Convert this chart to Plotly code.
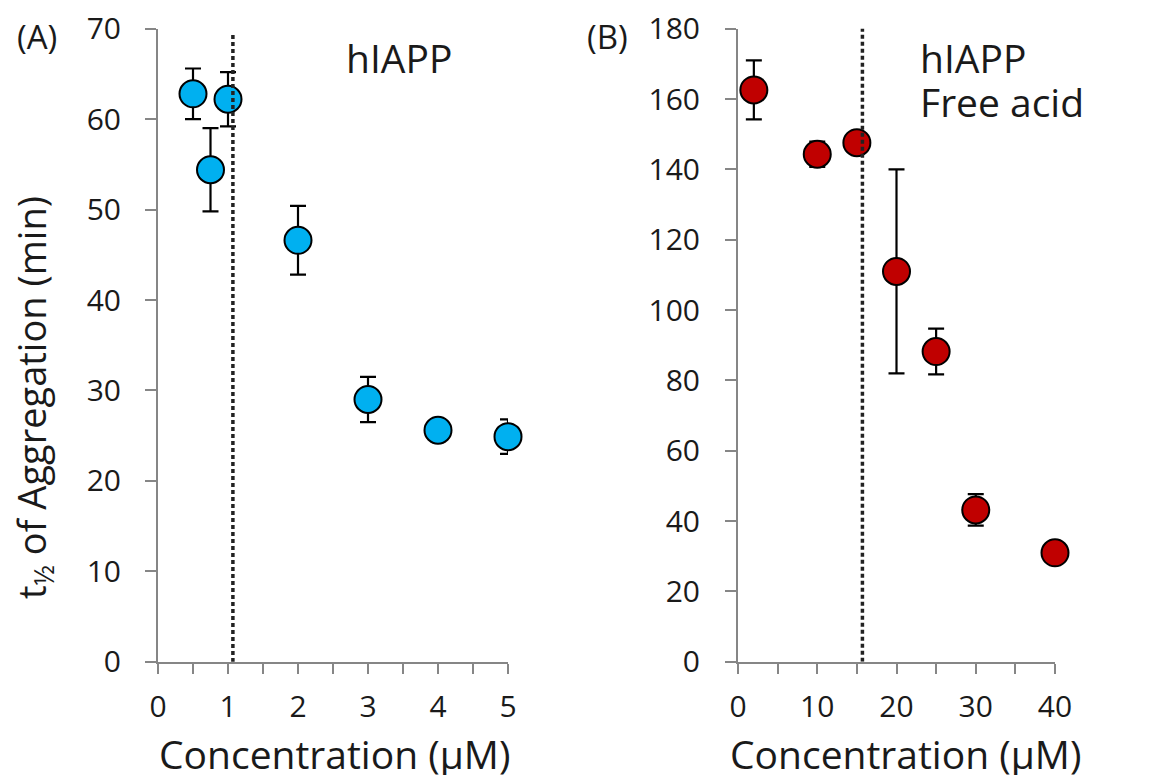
import plotly.graph_objects as go

# Panel A: hIAPP
conc_a = [0.5, 0.75, 1.0, 2, 3, 4, 5]
t_half_a = [62.8, 54.4, 62.2, 46.6, 29.0, 25.6, 24.9]
err_a = [2.8, 4.6, 3.0, 3.8, 2.5, 1.2, 1.9]
cac_a = 1.07

# Panel B: hIAPP free acid
conc_b = [2, 10, 15, 20, 25, 30, 40]
t_half_b = [162.6, 144.3, 147.6, 111.0, 88.2, 43.2, 31.0]
err_b = [8.4, 3.6, 2.0, 29.0, 6.5, 4.5, 1.0]
cac_b = 15.7

FONT = "Open Sans"
TXT = "#1a1a1a"
GREY = "#868686"

fig = go.Figure()

fig.add_trace(go.Scatter(
    x=conc_a, y=t_half_a, mode="markers", xaxis="x", yaxis="y",
    marker=dict(size=27, color="#00B0F0", line=dict(color="black", width=2)),
    error_y=dict(type="data", array=err_a, color="black", thickness=2.2, width=8),
    cliponaxis=False, showlegend=False))

fig.add_trace(go.Scatter(
    x=conc_b, y=t_half_b, mode="markers", xaxis="x2", yaxis="y2",
    marker=dict(size=27, color="#C00000", line=dict(color="black", width=2)),
    error_y=dict(type="data", array=err_b, color="black", thickness=2.2, width=8),
    cliponaxis=False, showlegend=False))

ydom = [0.146, 0.963]
axis_common = dict(showline=True, linecolor=GREY, linewidth=2, ticks="outside",
                   tickcolor=GREY, tickwidth=2, showgrid=False, zeroline=False,
                   automargin=False,
                   tickfont=dict(family=FONT, size=30, color=TXT))

fig.update_layout(
    width=1153, height=775, autosize=False,
    margin=dict(l=0, r=0, t=0, b=0, autoexpand=False),
    paper_bgcolor="white", plot_bgcolor="white",
    xaxis=dict(domain=[158/1153, 508/1153], range=[0, 5], dtick=1, ticklen=10,
               minor=dict(dtick=0.5, ticks="outside", ticklen=10, tickcolor=GREY, tickwidth=2),
               ticklabelstandoff=7, anchor="y", **axis_common),
    yaxis=dict(domain=ydom, range=[0, 70], dtick=10, ticklen=11,
               ticklabelstandoff=18, anchor="x", **axis_common),
    xaxis2=dict(domain=[738/1153, 1055/1153], range=[0, 40], dtick=10, ticklen=10,
                minor=dict(dtick=5, ticks="outside", ticklen=10, tickcolor=GREY, tickwidth=2),
                ticklabelstandoff=7, anchor="y2", **axis_common),
    yaxis2=dict(domain=ydom, range=[0, 180], dtick=20, ticklen=11,
                ticklabelstandoff=19, anchor="x2", **axis_common),
)

fig.add_shape(type="line", xref="x", yref="y", x0=cac_a, x1=cac_a, y0=-0.8, y1=69.5,
              line=dict(color="#222222", width=3.5, dash="4px,3px"))
fig.add_shape(type="line", xref="x2", yref="y2", x0=cac_b, x1=cac_b, y0=0, y1=180.5,
              line=dict(color="#222222", width=3.5, dash="4px,3px"))

def ann(text, x, y, size, xanchor="center", angle=0):
    fig.add_annotation(text=text, xref="paper", yref="paper", x=x/1153, y=1-y/775,
                       xanchor=xanchor, yanchor="middle", showarrow=False, textangle=angle,
                       font=dict(family=FONT, size=size, color=TXT))

ann("(A)", 37, 36, 33)
ann("(B)", 607, 36, 33)
ann("hIAPP", 399, 58, 39)
ann("hIAPP", 918, 58, 39, xanchor="left")
ann("Free acid", 918, 101, 39, xanchor="left")
ann("Concentration (μM)", 334, 753, 39)
ann("Concentration (μM)", 905, 753, 39)
ann("t<sub>½</sub> of Aggregation (min)", 33, 398, 38, angle=-90)

fig.write_html("out.html")
